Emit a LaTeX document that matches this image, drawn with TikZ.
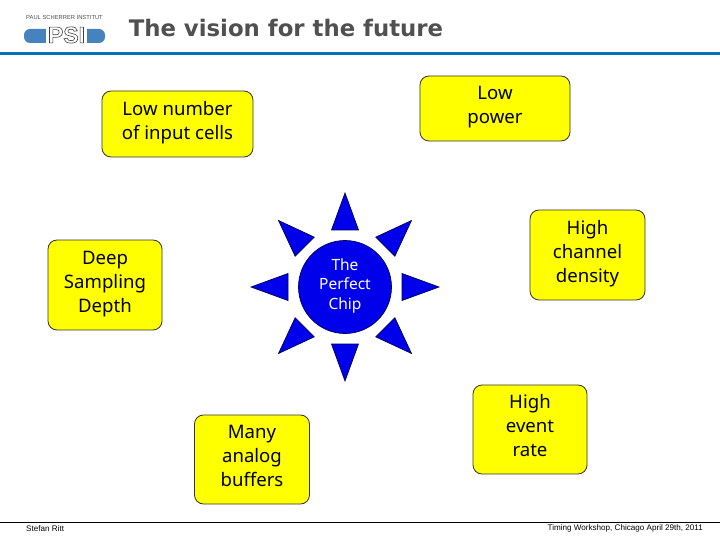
\documentclass[tikz,border=0pt]{standalone}
\usepackage{fontspec}
\usepackage{xcolor}
\usetikzlibrary{calc}
\setmainfont{Noto Sans}
\newfontfamily\footfont{Liberation Sans}
\newfontfamily\titlefont{DejaVu Sans Bold}
\definecolor{psiblue}{RGB}{0,112,192}
\definecolor{logoblue}{RGB}{70,130,190}
\definecolor{sunblue}{RGB}{0,0,235}
\definecolor{titlegray}{RGB}{80,80,80}
\definecolor{goalyellow}{RGB}{255,255,0}
\tikzset{
  goalbox/.style={draw=black!80, fill=goalyellow, rounded corners=9pt, line width=0.8pt, align=center, inner sep=0pt, font=\fontsize{18.6}{24}\selectfont, execute at begin node={\rule{0pt}{#1}}, execute at end node=\strut},
  goalbox/.default=25pt,
  sunray/.style={draw=black!70!blue, fill=sunblue, line width=0.7pt},
  footnote/.style={inner sep=0pt, text=black, font=\footfont\fontsize{8.1}{9}\selectfont}
}
\begin{document}
\begin{tikzpicture}[x=1pt, y=-1pt]
  \useasboundingbox (0,0) rectangle (720,540);
  % header
  \node[inner sep=0pt, text=titlegray, font=\titlefont\fontsize{22.8}{27}\selectfont] (title) at (286,28) {The vision for the future};
  \draw[psiblue, line width=3pt] (0,54) -- (720,54);
  \fill[logoblue, rounded corners=6pt] (24,29) rectangle (105,43);
  \fill[white] (46,26) rectangle (87,44);
  \node[inner sep=0pt, text=black!70, font=\footfont\fontsize{5.8}{7}\selectfont] (institute) at (64.5,18) {PAUL SCHERRER INSTITUT};
  \node[inner sep=0pt, text=white, font=\footfont\bfseries\fontsize{23}{24}\selectfont] (psi) at (66.5,35) {\special{pdf:code 2 Tr 0.6 w 0.25 G}PSI\special{pdf:code 0 Tr}};

  % goals
  \node[goalbox=20.8pt, minimum width=151pt, minimum height=66pt] (cells) at (177.5,124) {Low number\\of input cells};
  \node[goalbox=22.8pt, minimum width=150pt, minimum height=65pt] (power) at (495,108.5) {Low\\power};
  \node[goalbox, minimum width=114pt, minimum height=90pt] (depth) at (105,285) {Deep\\Sampling\\Depth};
  \node[goalbox, minimum width=115pt, minimum height=90pt] (density) at (587.5,255) {High\\channel\\density};
  \node[goalbox, minimum width=115pt, minimum height=89pt] (buffers) at (252,459.5) {Many\\analog\\buffers};
  \node[goalbox, minimum width=114pt, minimum height=89pt] (rate) at (530,429.5) {High\\event\\rate};

  % sun
  \node[circle, sunray, minimum size=93pt, inner sep=0pt, align=center, text=white, font=\fontsize{15.5}{19.5}\selectfont, execute at begin node={\rule{0pt}{21.5pt}}, execute at end node=\strut] (chip) at (345,287) {The\\Perfect\\Chip};
  \foreach \ang in {0,45,...,315}
    \draw[sunray, rotate around={\ang:(chip.center)}] ($(chip.center)+(0,-94)$) -- ($(chip.center)+(13.5,-57)$) -- ($(chip.center)+(-13.5,-57)$) -- cycle;

  % footer
  \draw[black, line width=1pt] (0,522) -- (720,522);
  \node[footnote, anchor=west] (author) at (26,528.5) {Stefan Ritt};
  \node[footnote, anchor=east] (event) at (703,528.5) {Timing Workshop, Chicago April 29th, 2011};
\end{tikzpicture}
\end{document}
